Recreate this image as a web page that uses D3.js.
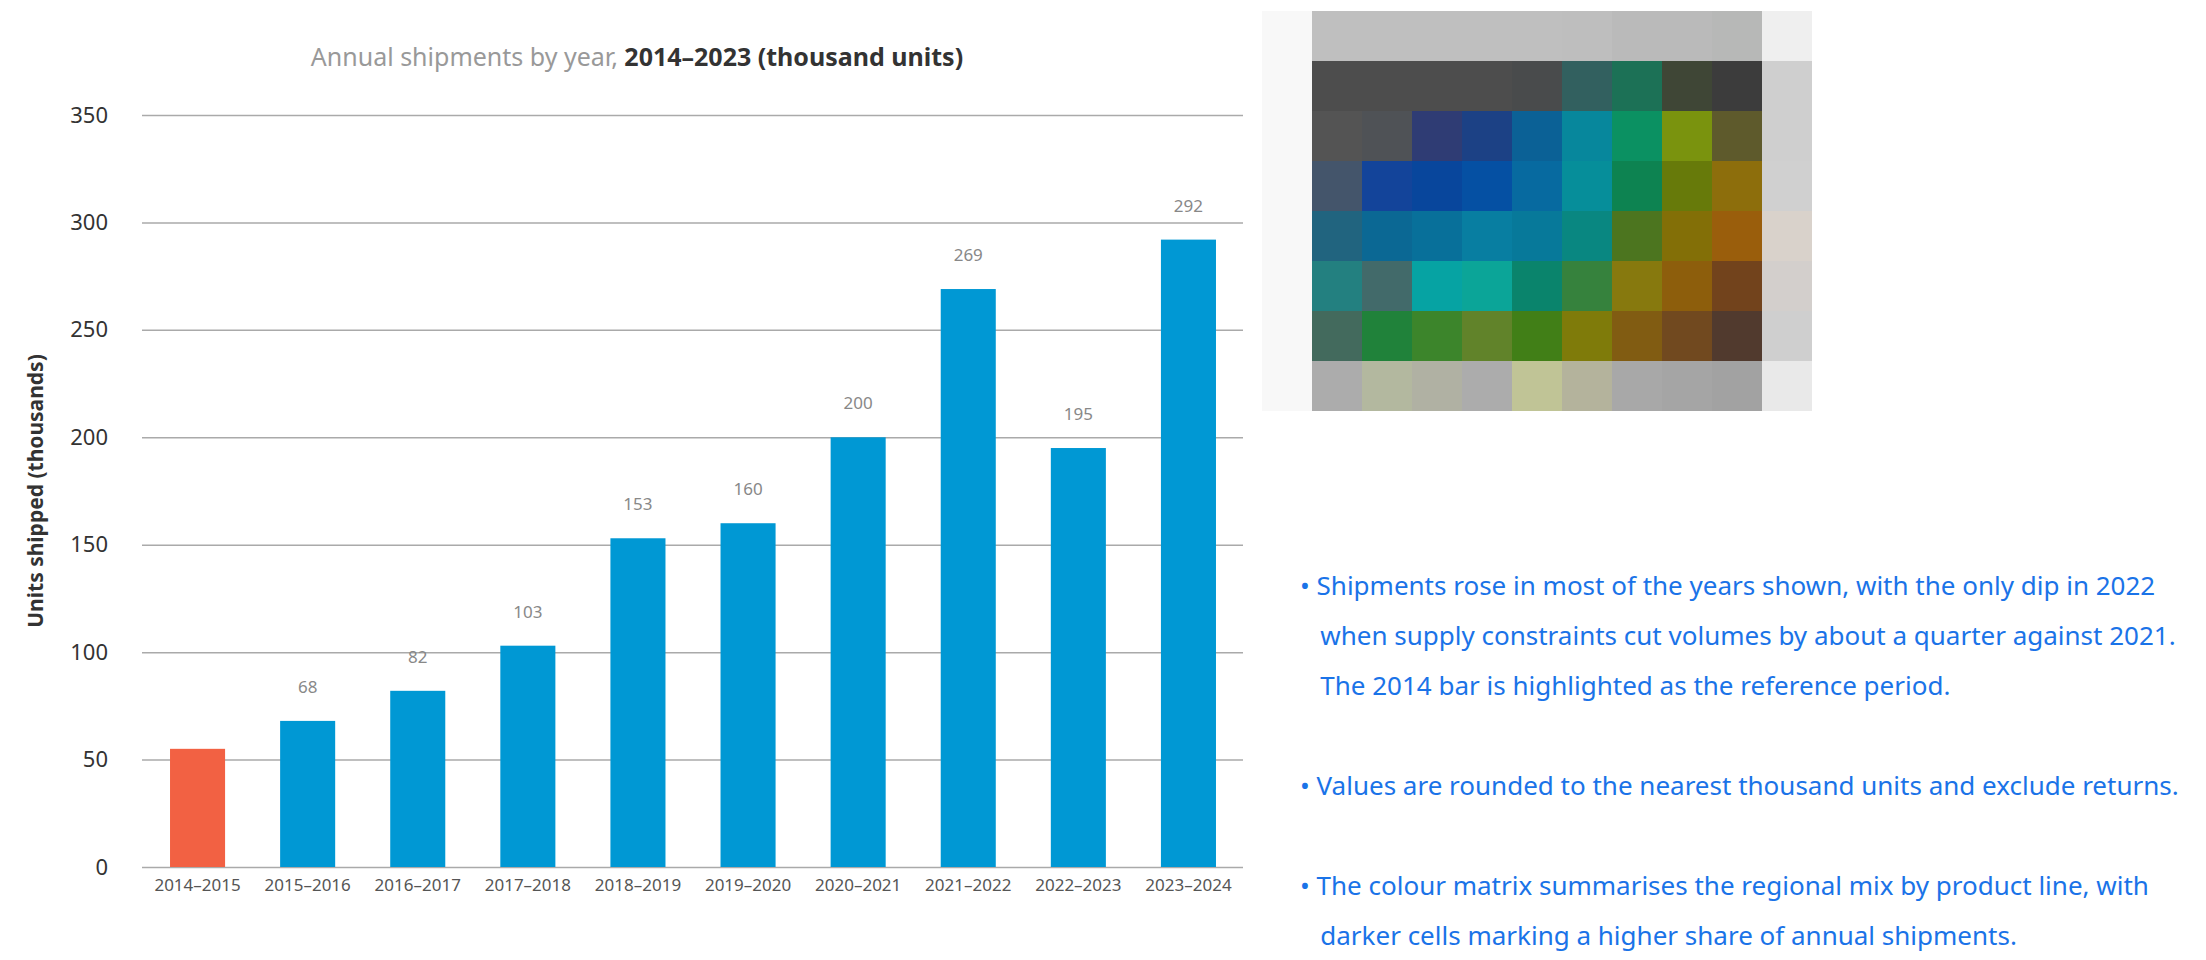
<!DOCTYPE html>
<html>
<head>
<meta charset="utf-8">
<script src="https://cdn.jsdelivr.net/npm/d3@7"></script>
<style>
  body { margin: 0; background: #fff; font-family: "Noto Sans", sans-serif; }
</style>
</head>
<body>
<div id="chart"></div>
<script>
// bar chart data
const years = ["2014", "2015", "2016", "2017", "2018", "2019", "2020", "2021", "2022", "2023"];
const shipments = [55, 68, 82, 103, 153, 160, 200, 269, 195, 292];
const yTickValues = [0, 50, 100, 150, 200, 250, 300, 350];
const highlightYear = "2014";

// colour matrix (header row, six body rows, footer row, side column)
const paletteHeader = ["#bfbfbf", "#bfbfbf", "#bfbfbf", "#bfbfbf", "#bfbfbf", "#bebebe", "#bababa", "#bababa", "#b7b8b7"];
const paletteRows = [
  ["#4d4d4d", "#4d4d4d", "#4d4d4d", "#4d4d4d", "#494b4c", "#32605f", "#1c7156", "#3f4636", "#3c3c3c"],
  ["#545454", "#4f5256", "#2f3c74", "#1c4185", "#0b6196", "#07879c", "#0b9162", "#7a930e", "#5e5a2c"],
  ["#44556b", "#13449a", "#08469c", "#0550a3", "#076aa0", "#068e9a", "#0d8351", "#677a0a", "#8d6e0c"],
  ["#21647f", "#0b6894", "#08709a", "#087ea1", "#07799a", "#098781", "#4c751f", "#836f07", "#9a5e0c"],
  ["#238080", "#426a6a", "#06a3a3", "#0ba598", "#0a846c", "#36823d", "#87790e", "#8d5e0c", "#72431c"],
  ["#436a5d", "#20823a", "#3c852b", "#61832a", "#417f17", "#7f7b0a", "#815c12", "#71491f", "#513a2e"]
];
const paletteFooter = ["#acacac", "#b3b89f", "#b0b1a3", "#acacac", "#c0c496", "#b4b39c", "#a8a8a8", "#a5a5a5", "#a2a2a2"];
const paletteSide = ["#efefef", "#cfcfcf", "#cfcfcf", "#d0d0d0", "#d9d2cb", "#d3cfcc", "#cfcfcf", "#e9e9e9"];

// notes, one entry per printed line; para = paragraph number
const notes = [
  {para: 0, text: "• Shipments rose in most of the years shown, with the only dip in 2022"},
  {para: 0, text: "   when supply constraints cut volumes by about a quarter against 2021."},
  {para: 0, text: "   The 2014 bar is highlighted as the reference period."},
  {para: 1, text: "• Values are rounded to the nearest thousand units and exclude returns."},
  {para: 2, text: "• The colour matrix summarises the regional mix by product line, with"},
  {para: 2, text: "   darker cells marking a higher share of annual shipments."}
];

const width = 2206, height = 960;
const margin = {top: 115, right: 963, bottom: 93, left: 142};

const svg = d3.select("#chart")
  .append("svg")
  .attr("width", width)
  .attr("height", height)
  .style("font-family", "'Noto Sans', sans-serif");

const x = d3.scaleBand()
  .domain(years)
  .range([margin.left + 0.5, width - margin.right + 0.5])
  .paddingInner(0.5)
  .paddingOuter(0.25);

const y = d3.scaleLinear()
  .domain([0, 350])
  .range([height - margin.bottom, margin.top]);

// gridlines
svg.append("g")
  .attr("transform", `translate(${margin.left},0)`)
  .call(d3.axisLeft(y).tickValues(yTickValues).tickSize(-(width - margin.left - margin.right)).tickFormat(""))
  .call(g => g.select(".domain").remove())
  .call(g => g.selectAll("line").attr("stroke", "#aaa").attr("stroke-width", 1.5));

// y axis labels
svg.append("g")
  .attr("transform", `translate(${margin.left},0)`)
  .call(d3.axisLeft(y).tickValues(yTickValues).tickSize(0).tickPadding(34))
  .call(g => g.select(".domain").remove())
  .call(g => g.selectAll("text")
    .attr("fill", "#333")
    .style("font-size", "22px")
    .style("font-family", "'Noto Sans', sans-serif"));

// bars
svg.selectAll(".bar")
  .data(years)
  .join("rect")
  .attr("class", "bar")
  .attr("x", d => x(d))
  .attr("width", x.bandwidth())
  .attr("y", (d, i) => y(shipments[i]))
  .attr("height", (d, i) => y(0) - y(shipments[i]))
  .attr("fill", d => d === highlightYear ? "#f26143" : "#0098d4");

// value labels
svg.selectAll(".value")
  .data(years.filter(d => d !== highlightYear))
  .join("text")
  .attr("class", "value")
  .attr("x", d => x(d) + x.bandwidth() / 2)
  .attr("y", d => y(shipments[years.indexOf(d)]) - 28)
  .attr("text-anchor", "middle")
  .attr("fill", "#888")
  .style("font-size", "17px")
  .text(d => shipments[years.indexOf(d)]);

// x axis
svg.append("g")
  .attr("transform", `translate(0,${y(0)})`)
  .call(d3.axisBottom(x).tickSize(0).tickPadding(12).tickFormat(d => d + "–" + (+d + 1)))
  .call(g => g.select(".domain").remove())
  .call(g => g.selectAll("text")
    .attr("fill", "#555")
    .style("font-size", "17px")
    .style("font-family", "'Noto Sans', sans-serif"));

// title
const title = svg.append("text")
  .attr("x", 637)
  .attr("y", 66)
  .attr("text-anchor", "middle")
  .style("font-size", "25px");
title.append("tspan").attr("fill", "#999").text("Annual shipments by year, ");
title.append("tspan").attr("fill", "#333").attr("font-weight", "bold").text("2014–2023 (thousand units)");

// y axis title
svg.append("text")
  .attr("transform", `translate(37,${(y(0) + y(350)) / 2}) rotate(-90)`)
  .attr("text-anchor", "middle")
  .attr("dominant-baseline", "middle")
  .attr("fill", "#333")
  .attr("font-weight", "bold")
  .style("font-size", "21px")
  .text("Units shipped (thousands)");

// colour matrix
const matrixRows = [paletteHeader].concat(paletteRows, [paletteFooter]);
const cx = d3.scaleBand().domain(d3.range(10)).range([1312, 1812]);
const cy = d3.scaleBand().domain(d3.range(matrixRows.length)).range([11, 411]);

svg.append("rect")
  .attr("x", cx(0) - cx.bandwidth())
  .attr("y", cy(0))
  .attr("width", cx.bandwidth() * 11)
  .attr("height", cy.bandwidth() * matrixRows.length)
  .attr("fill", "#f8f8f8");

const rowG = svg.selectAll(".mrow")
  .data(matrixRows)
  .join("g")
  .attr("class", "mrow")
  .attr("transform", (d, i) => `translate(0,${cy(i)})`);

rowG.selectAll("rect")
  .data(d => d)
  .join("rect")
  .attr("x", (d, i) => cx(i))
  .attr("width", cx.bandwidth())
  .attr("height", cy.bandwidth())
  .attr("fill", d => d);

svg.selectAll(".side")
  .data(paletteSide)
  .join("rect")
  .attr("class", "side")
  .attr("x", cx(9))
  .attr("y", (d, i) => cy(i))
  .attr("width", cx.bandwidth())
  .attr("height", cy.bandwidth())
  .attr("fill", d => d);

// notes
const lineY = d3.scaleLinear().domain([0, 1]).range([595, 645]);
svg.append("g")
  .selectAll("text")
  .data(notes)
  .join("text")
  .attr("x", 1300)
  .attr("y", (d, i) => lineY(i + d.para))
  .attr("fill", "#1a73e8")
  .style("font-size", "26px")
  .style("white-space", "pre")
  .attr("xml:space", "preserve")
  .text(d => d.text);
</script>
</body>
</html>
